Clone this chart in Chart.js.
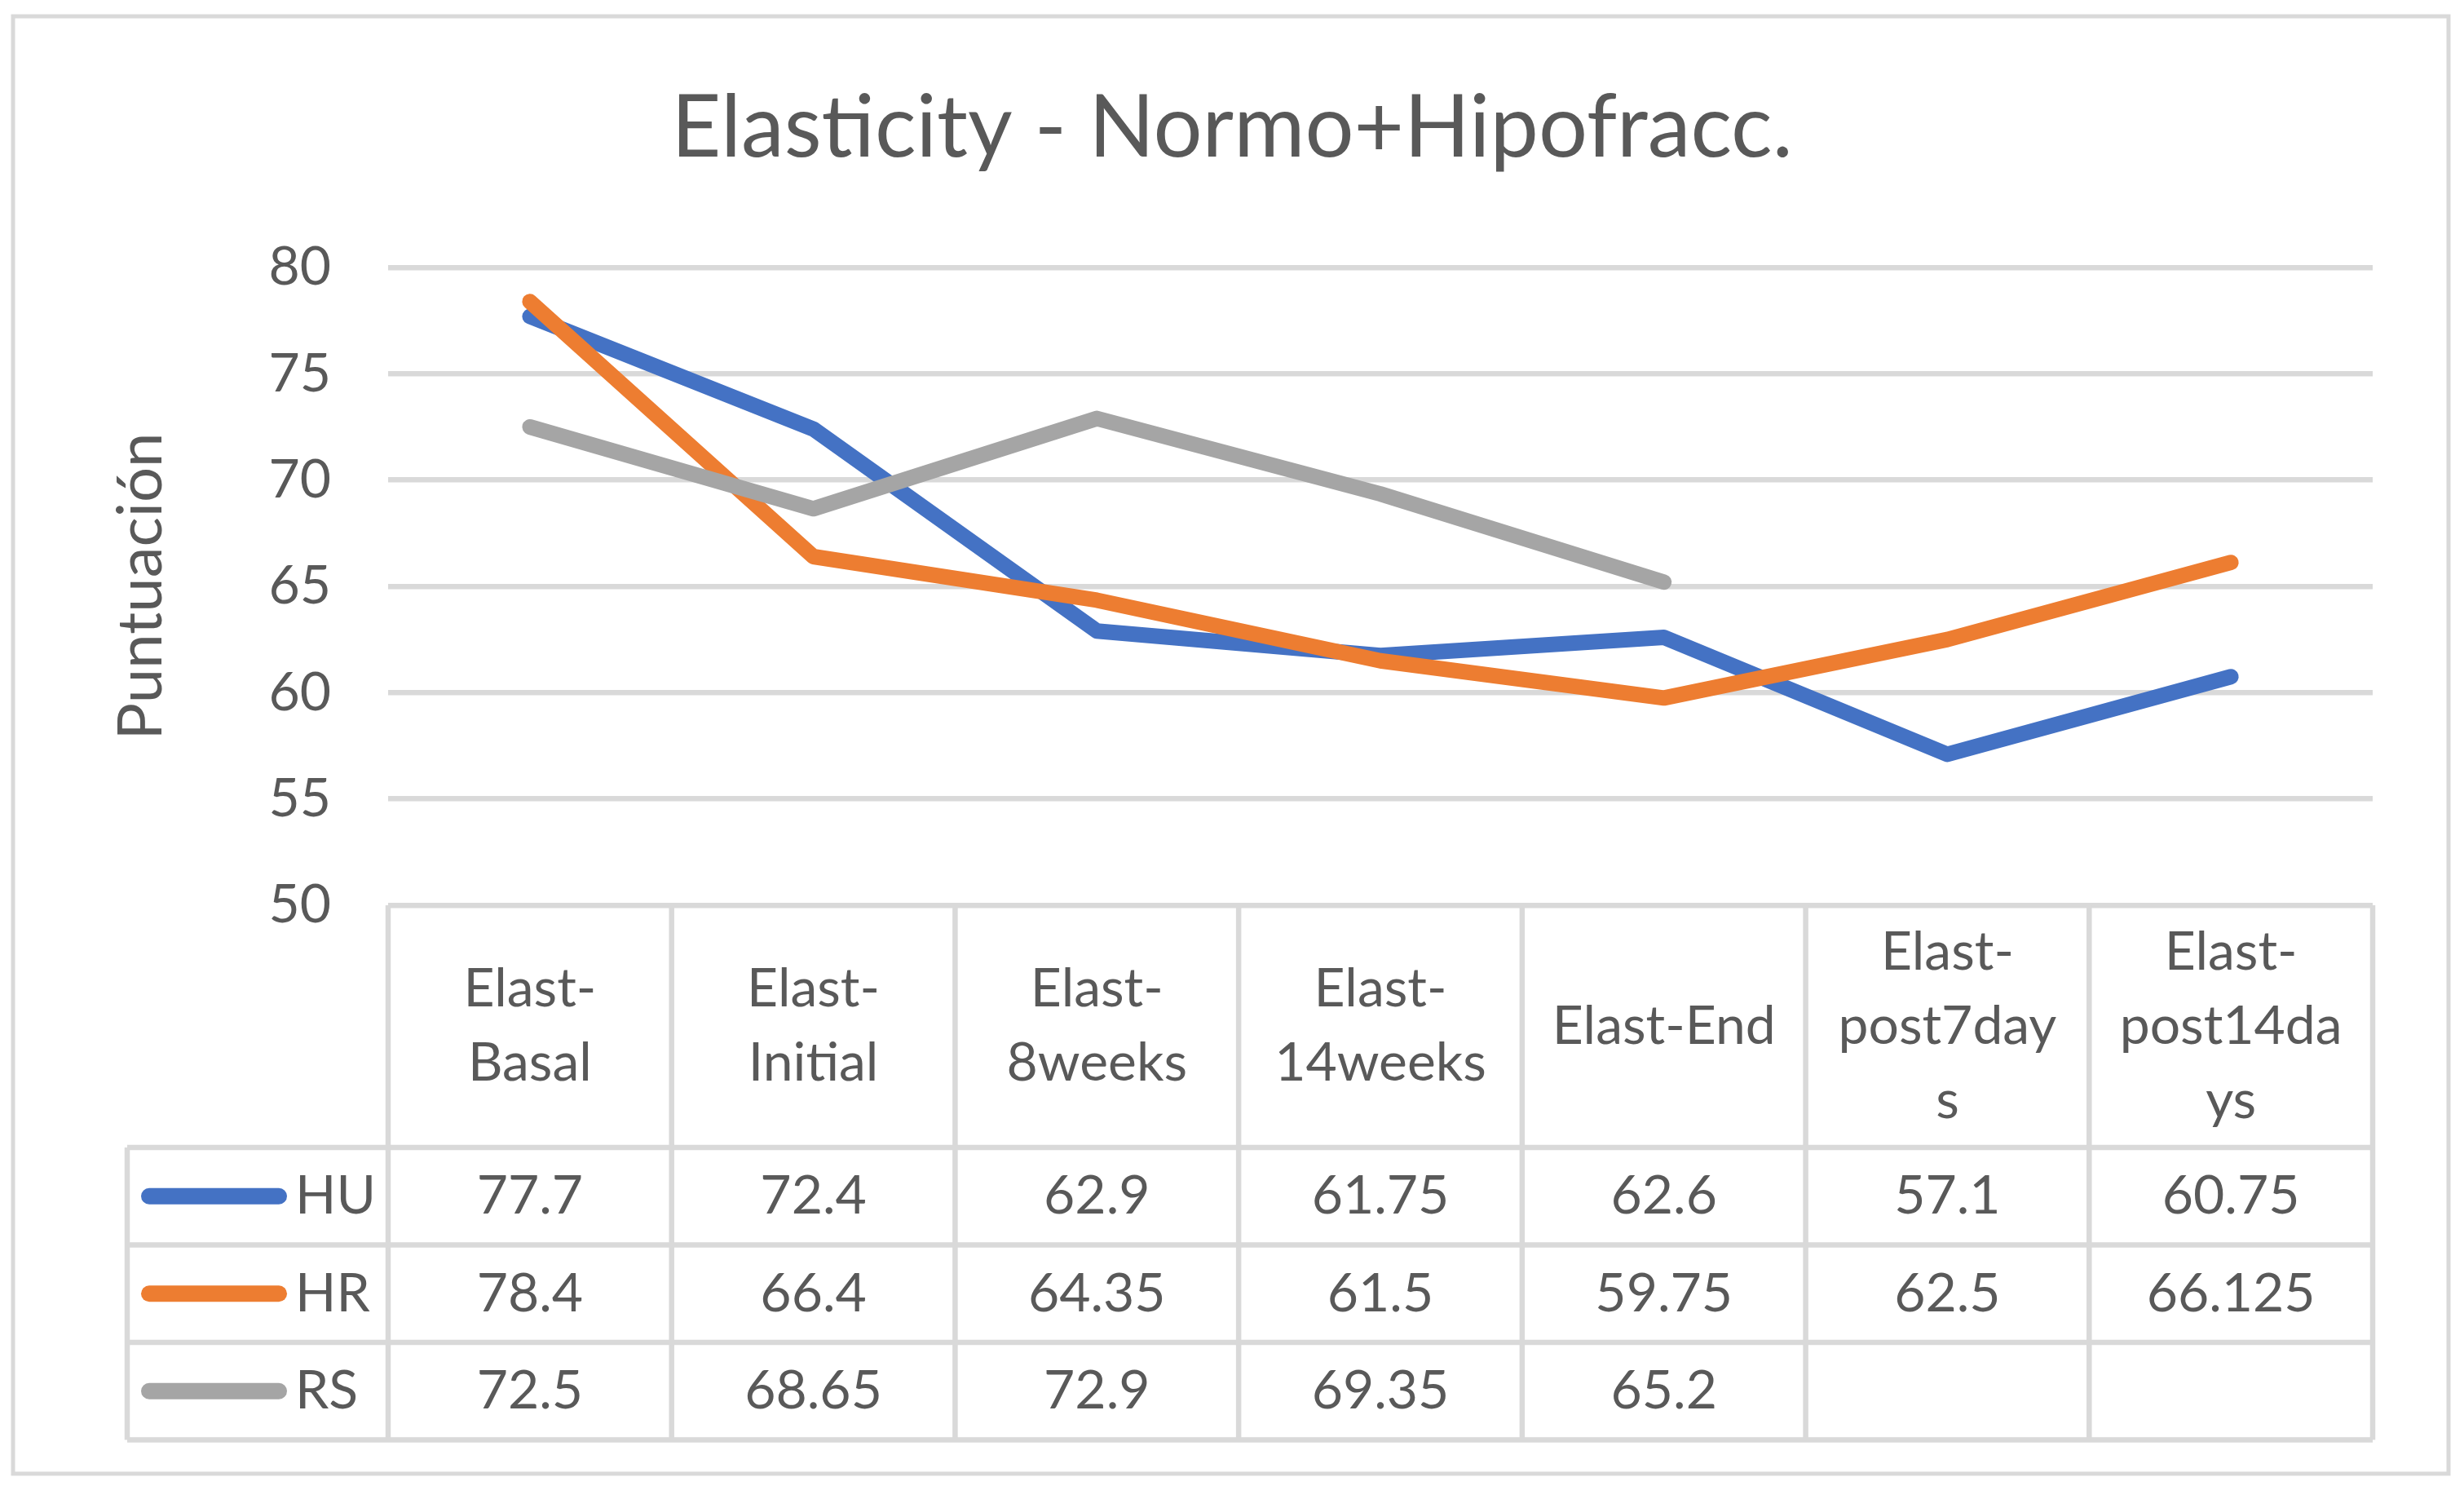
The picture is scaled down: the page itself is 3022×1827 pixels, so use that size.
<!DOCTYPE html>
<html>
<head>
<meta charset="utf-8">
<script src="https://cdn.jsdelivr.net/npm/chart.js@4"></script>
<style>
  html, body { margin: 0; padding: 0; background: #fff; }
  canvas { display: block; }
</style>
</head>
<body>
<canvas id="chart" width="3022" height="1827" style="width:3022px;height:1827px"></canvas>
<script>
const categories = ["Elast-Basal", "Elast-Initial", "Elast-8weeks", "Elast-14weeks", "Elast-End", "Elast-post7days", "Elast-post14days"];
// how Excel wrapped the header cells
const headerLines = [["Elast-", "Basal"], ["Elast-", "Initial"], ["Elast-", "8weeks"], ["Elast-", "14weeks"], ["Elast-End"], ["Elast-", "post7day", "s"], ["Elast-", "post14da", "ys"]];
const seriesNames = ["HU", "HR", "RS"];
const huValues = [77.7, 72.4, 62.9, 61.75, 62.6, 57.1, 60.75];
const hrValues = [78.4, 66.4, 64.35, 61.5, 59.75, 62.5, 66.125];
const rsValues = [72.5, 68.65, 72.9, 69.35, 65.2, null, null];
const yTicks = [50, 55, 60, 65, 70, 75, 80];
const chartTitle = "Elasticity - Normo+Hipofracc.";

const colors = ["#4472C4", "#ED7D31", "#A5A5A5"];
const textColor = "#595959";
const lineGray = "#D9D9D9";
const font = "Lato";

// data table under the plot, like Excel's "data table with legend keys"
const dataTable = {
  id: "dataTable",
  beforeDraw(chart) {
    const ctx = chart.ctx;
    ctx.save();
    ctx.fillStyle = "#fff";
    ctx.fillRect(0, 0, chart.width, chart.height);
    // title, centred on the whole chart like Excel does
    ctx.fillStyle = textColor;
    ctx.font = "106px " + font;
    ctx.textAlign = "center";
    ctx.textBaseline = "middle";
    ctx.fillText(chartTitle, chart.width / 2, 158);
    ctx.restore();
  },
  afterDraw(chart) {
    const ctx = chart.ctx;
    const area = chart.chartArea;
    const x = chart.scales.x;
    const colW = (area.right - area.left) / categories.length;
    const headTop = area.bottom;
    const headBottom = headTop + 297;
    const rowH = 119.5;
    const tableBottom = headBottom + rowH * 3;
    const legendLeft = 156;

    ctx.save();
    ctx.strokeStyle = lineGray;
    ctx.lineWidth = 6.5;
    ctx.beginPath();
    // vertical lines
    for (let i = 0; i <= categories.length; i++) {
      const xx = area.left + colW * i;
      ctx.moveTo(xx, headTop);
      ctx.lineTo(xx, tableBottom);
    }
    ctx.moveTo(legendLeft, headBottom);
    ctx.lineTo(legendLeft, tableBottom);
    // horizontal lines
    for (let r = 0; r <= 3; r++) {
      const yy = headBottom + rowH * r;
      ctx.moveTo(legendLeft, yy);
      ctx.lineTo(area.right, yy);
    }
    ctx.stroke();

    // header labels
    ctx.fillStyle = textColor;
    ctx.font = "66px " + font;
    ctx.textAlign = "center";
    ctx.textBaseline = "middle";
    const lh = 91;
    const headMid = (headTop + headBottom) / 2;
    headerLines.forEach((lines, i) => {
      const cx = x.getPixelForValue(i);
      const y0 = headMid - (lines.length - 1) * lh / 2;
      lines.forEach((t, k) => ctx.fillText(t, cx, y0 + k * lh));
    });

    // rows
    const rows = [huValues, hrValues, rsValues];
    rows.forEach((vals, r) => {
      const cy = headBottom + rowH * r + rowH / 2;
      ctx.strokeStyle = colors[r];
      ctx.lineWidth = 20;
      ctx.lineCap = "round";
      ctx.beginPath();
      ctx.moveTo(183, cy);
      ctx.lineTo(342, cy);
      ctx.stroke();
      ctx.textAlign = "left";
      ctx.fillText(seriesNames[r], 362, cy);
      ctx.textAlign = "center";
      vals.forEach((v, i) => {
        if (v === null) return;
        ctx.fillText(String(v), x.getPixelForValue(i), cy);
      });
    });

    // outer chart border
    ctx.strokeStyle = lineGray;
    ctx.lineWidth = 5;
    ctx.strokeRect(16, 20, 2987, 1787);
    ctx.restore();
  }
};

function makeSet(i, data, order) {
  return {
    label: seriesNames[i],
    data: data,
    borderColor: colors[i],
    backgroundColor: colors[i],
    borderWidth: 19,
    borderCapStyle: "round",
    borderJoinStyle: "round",
    pointRadius: 0,
    tension: 0,
    spanGaps: false,
    order: order
  };
}

new Chart(document.getElementById("chart"), {
  type: "line",
  data: {
    labels: categories,
    datasets: [makeSet(0, huValues, 3), makeSet(1, hrValues, 2), makeSet(2, rsValues, 1)]
  },
  options: {
    responsive: false,
    devicePixelRatio: 1,
    animation: false,
    layout: { padding: { left: 0, right: 112, top: 328, bottom: 717 } },
    plugins: {
      legend: { display: false },
      tooltip: { enabled: false },
      title: { display: false }
    },
    scales: {
      x: {
        display: false,
        offset: true
      },
      y: {
        min: 50,
        max: 80,
        afterBuildTicks(scale) { scale.ticks = yTicks.map(v => ({ value: v })); },
        afterFit(scale) { scale.width = 476; },
        border: { display: false },
        grid: { color: lineGray, lineWidth: 6.5, drawTicks: false },
        ticks: {
          color: textColor,
          padding: 70,
          font: { family: font, size: 66 }
        },
        title: {
          display: true,
          text: "Puntuación",
          color: textColor,
          font: { family: font, size: 76 },
          padding: { top: 128, bottom: 0 }
        }
      }
    }
  },
  plugins: [dataTable]
});
</script>
</body>
</html>
